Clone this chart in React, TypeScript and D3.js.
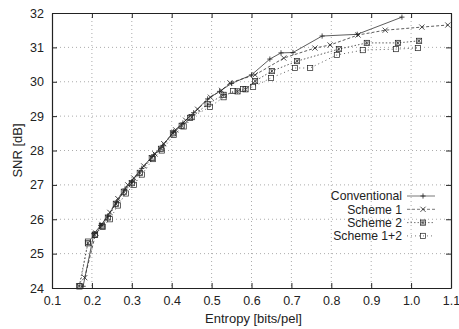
import React, { useEffect, useRef } from 'react';
import * as d3 from 'd3';

const xTicks = [0.1, 0.2, 0.3, 0.4, 0.5, 0.6, 0.7, 0.8, 0.9, 1.0, 1.1];
const yTicks = [24, 25, 26, 27, 28, 29, 30, 31, 32];

const conventional = [
  [0.178, 24.05], [0.205, 25.58], [0.222, 25.82], [0.24, 26.1], [0.262, 26.5], [0.283, 26.88],
  [0.3, 27.1], [0.325, 27.48], [0.355, 27.88], [0.378, 28.15], [0.405, 28.55], [0.428, 28.8],
  [0.455, 29.1], [0.49, 29.5], [0.52, 29.72], [0.55, 29.95], [0.6, 30.2], [0.646, 30.66],
  [0.674, 30.84], [0.704, 30.85], [0.777, 31.33], [0.865, 31.38], [0.977, 31.88],
];
const scheme1 = [
  [0.182, 24.3], [0.21, 25.6], [0.225, 25.85], [0.245, 26.2], [0.265, 26.6], [0.29, 27.0],
  [0.305, 27.2], [0.33, 27.55], [0.358, 27.9], [0.38, 28.2], [0.41, 28.6], [0.435, 28.88],
  [0.465, 29.2], [0.497, 29.55], [0.525, 29.75], [0.546, 29.97], [0.609, 30.2], [0.681, 30.69],
  [0.759, 30.98], [0.797, 31.07], [0.867, 31.36], [0.935, 31.5], [1.027, 31.59], [1.092, 31.65],
];
const scheme2 = [
  [0.168, 24.05], [0.19, 25.3], [0.207, 25.55], [0.225, 25.8], [0.24, 26.05], [0.26, 26.45],
  [0.28, 26.8], [0.3, 27.05], [0.32, 27.35], [0.35, 27.78], [0.373, 28.05], [0.403, 28.5],
  [0.425, 28.72], [0.45, 28.97], [0.49, 29.35], [0.53, 29.62], [0.565, 29.72], [0.585, 29.78],
  [0.609, 30.02], [0.651, 30.31], [0.714, 30.6], [0.819, 30.95], [0.889, 31.13], [0.967, 31.13],
  [1.02, 31.19],
];
const scheme12 = [
  [0.17, 24.05], [0.19, 25.35], [0.208, 25.55], [0.227, 25.78], [0.245, 26.0], [0.265, 26.4],
  [0.285, 26.75], [0.305, 27.0], [0.325, 27.3], [0.353, 27.75], [0.375, 28.0], [0.405, 28.45],
  [0.43, 28.7], [0.446, 28.95], [0.496, 29.27], [0.53, 29.55], [0.554, 29.73], [0.579, 29.79],
  [0.604, 29.85], [0.649, 30.11], [0.709, 30.4], [0.747, 30.4], [0.814, 30.78], [0.879, 30.92],
  [0.962, 30.95], [1.017, 30.98],
];

const seriesNames = ['Conventional', 'Scheme 1', 'Scheme 2', 'Scheme 1+2'];
const seriesData = [conventional, scheme1, scheme2, scheme12];
const dashes = [null, '3,2', '1.5,2', '1,3'];
const markers = ['plus', 'cross', 'boxstar', 'square'];

const W = 459, H = 329;

function drawMarker(g, type, x, y) {
  const s = 2.6;
  const stroke = '#222';
  if (type === 'plus') {
    g.append('path').attr('d', `M${x - s},${y}H${x + s}M${x},${y - s}V${y + s}`)
      .attr('stroke', stroke).attr('stroke-width', 0.8).attr('fill', 'none');
  } else if (type === 'cross') {
    g.append('path').attr('d', `M${x - s},${y - s}L${x + s},${y + s}M${x - s},${y + s}L${x + s},${y - s}`)
      .attr('stroke', stroke).attr('stroke-width', 0.8).attr('fill', 'none');
  } else if (type === 'boxstar') {
    g.append('rect').attr('x', x - s).attr('y', y - s).attr('width', 2 * s).attr('height', 2 * s)
      .attr('stroke', stroke).attr('stroke-width', 0.7).attr('fill', 'none');
    g.append('path').attr('d', `M${x - s},${y - s}L${x + s},${y + s}M${x - s},${y + s}L${x + s},${y - s}M${x},${y - s}V${y + s}`)
      .attr('stroke', stroke).attr('stroke-width', 0.6).attr('fill', 'none');
  } else {
    g.append('rect').attr('x', x - s).attr('y', y - s).attr('width', 2 * s).attr('height', 2 * s)
      .attr('stroke', stroke).attr('stroke-width', 0.7).attr('fill', 'none');
  }
}

const App = () => {
  const svgRef = useRef(null);

  useEffect(() => {
    const svg = d3.select(svgRef.current);
    svg.selectAll('*').remove();

    const margin = { top: 13, right: 8, bottom: 41, left: 52 };
    const innerWidth = W - margin.left - margin.right;
    const innerHeight = H - margin.top - margin.bottom;

    const x = d3.scaleLinear().domain([0.1, 1.1]).range([0, innerWidth]);
    const y = d3.scaleLinear().domain([24, 32]).range([innerHeight, 0]);

    const g = svg.append('g').attr('transform', `translate(${margin.left},${margin.top})`);
    const font = '"Liberation Sans", Arial, sans-serif';

    // grid
    g.append('g').selectAll('line').data(xTicks.slice(1, -1)).enter().append('line')
      .attr('x1', d => x(d)).attr('x2', d => x(d)).attr('y1', 0).attr('y2', innerHeight)
      .attr('stroke', '#888').attr('stroke-width', 0.7).attr('stroke-dasharray', '1,3');
    g.append('g').selectAll('line').data(yTicks.slice(1, -1)).enter().append('line')
      .attr('y1', d => y(d)).attr('y2', d => y(d)).attr('x1', 0).attr('x2', innerWidth)
      .attr('stroke', '#888').attr('stroke-width', 0.7).attr('stroke-dasharray', '1,3');

    // axes (ticks inside, mirrored)
    const ax = [
      { a: d3.axisBottom(x), t: `translate(0,${innerHeight})`, labels: true },
      { a: d3.axisTop(x), t: 'translate(0,0)', labels: false },
      { a: d3.axisLeft(y), t: 'translate(0,0)', labels: true },
      { a: d3.axisRight(y), t: `translate(${innerWidth},0)`, labels: false },
    ];
    ax.forEach((o, i) => {
      const isX = i < 2;
      const axis = o.a.tickValues(isX ? xTicks : yTicks).tickSizeInner(-5).tickSizeOuter(0)
        .tickPadding(8).tickFormat(isX ? d3.format('.1f') : d3.format('d'));
      const ag = g.append('g').attr('transform', o.t).call(axis);
      ag.select('.domain').attr('stroke', '#222').attr('stroke-width', 1.2);
      ag.selectAll('.tick line').attr('stroke', '#222');
      ag.selectAll('text').attr('font-family', font).attr('font-size', 12.5).attr('fill', '#222');
      if (!o.labels) ag.selectAll('text').remove();
    });

    // series
    const line = d3.line().x(d => x(d[0])).y(d => y(d[1]));
    seriesData.forEach((data, i) => {
      g.append('path').datum(data).attr('d', line).attr('fill', 'none')
        .attr('stroke', '#333').attr('stroke-width', 0.8)
        .attr('stroke-dasharray', dashes[i]);
      const mg = g.append('g');
      data.forEach(d => drawMarker(mg, markers[i], x(d[0]), y(d[1])));
    });

    // legend
    const lg = g.append('g').attr('transform', `translate(${402 - margin.left},${196 - margin.top})`);
    seriesNames.forEach((name, i) => {
      const row = lg.append('g').attr('transform', `translate(0,${i * 13.3})`);
      row.append('text').attr('x', 0).attr('y', 4.2).attr('text-anchor', 'end')
        .attr('font-family', font).attr('font-size', 12.2).attr('fill', '#222').text(name);
      row.append('line').attr('x1', 5).attr('x2', 33).attr('y1', 0).attr('y2', 0)
        .attr('stroke', '#555').attr('stroke-width', 0.8).attr('stroke-dasharray', dashes[i]);
      drawMarker(row, markers[i], 21, 0);
    });

    // labels
    svg.append('text').attr('transform', `translate(22,${margin.top + innerHeight / 2}) rotate(-90)`)
      .attr('text-anchor', 'middle').attr('font-family', font).attr('font-size', 13).attr('fill', '#222')
      .text('SNR [dB]');
    svg.append('text').attr('x', margin.left + innerWidth / 2 + 2).attr('y', 323)
      .attr('text-anchor', 'middle').attr('font-family', font).attr('font-size', 13).attr('fill', '#222')
      .text('Entropy [bits/pel]');
  }, []);

  return (
    <svg ref={svgRef} width={W} height={H}
      style={{ position: 'absolute', left: 0, top: 0, background: '#fff' }} />
  );
};

export default App;
